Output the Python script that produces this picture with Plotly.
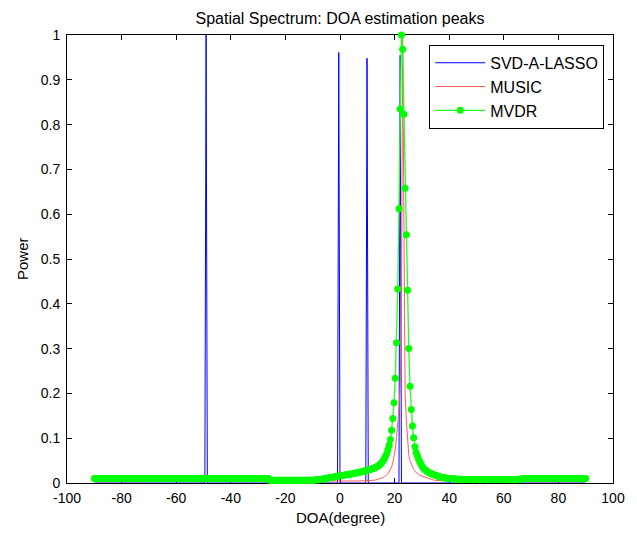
import numpy as np
import plotly.graph_objects as go

# ---------------- data ----------------
# DOA scan grid (degrees): 401 points from -90 to 90
doa_start, doa_stop, doa_count = -90.0, 90.0, 401
doa = np.linspace(doa_start, doa_stop, doa_count)

# SVD-A-LASSO: sparse spectrum (zero everywhere except at these peaks)
svd_peak_doa = [-49.05, -0.45, 9.9, 22.05]
svd_peak_power = [1.0, 0.961, 0.948, 0.955]

# MVDR normalised spectrum on the grid
mvdr_text = """
0.0098 0.0099 0.0098 0.0098 0.0097 0.0098 0.0099 0.0098 0.0098 0.0097
0.0098 0.0098 0.0099 0.0098 0.0097 0.0098 0.0098 0.0099 0.0098 0.0098
0.0097 0.0098 0.0098 0.0099 0.0098 0.0098 0.0097 0.0098 0.0099 0.0098
0.0098 0.0098 0.0097 0.0098 0.0099 0.0098 0.0098 0.0097 0.0098 0.0098
0.0099 0.0098 0.0098 0.0097 0.0098 0.0098 0.0099 0.0098 0.0098 0.0097
0.0098 0.0099 0.0098 0.0098 0.0097 0.0098 0.0098 0.0099 0.0098 0.0098
0.0097 0.0098 0.0099 0.0098 0.0098 0.0098 0.0097 0.0098 0.0099 0.0098
0.0098 0.0097 0.0098 0.0098 0.0099 0.0098 0.0098 0.0097 0.0098 0.0099
0.0098 0.0098 0.0097 0.0098 0.0098 0.0099 0.0098 0.0098 0.0097 0.0098
0.0099 0.0098 0.0098 0.0097 0.0098 0.0098 0.0099 0.0098 0.0098 0.0097
0.0098 0.0099 0.0098 0.0098 0.0097 0.0098 0.0098 0.0099 0.0098 0.0098
0.0097 0.0098 0.0099 0.0098 0.0098 0.0097 0.0098 0.0098 0.0099 0.0098
0.0098 0.0097 0.0098 0.0099 0.0098 0.0098 0.0097 0.0098 0.0098 0.0099
0.0098 0.0098 0.0097 0.0098 0.0099 0.0098 0.0098 0.0097 0.0098 0.0098
0.0098 0.0098 0.0097 0.0062 0.0061 0.0061 0.0060 0.0061 0.0060 0.0060
0.0061 0.0060 0.0060 0.0061 0.0060 0.0060 0.0061 0.0060 0.0060 0.0061
0.0060 0.0060 0.0061 0.0060 0.0060 0.0061 0.0060 0.0060 0.0061 0.0060
0.0060 0.0061 0.0060 0.0060 0.0061 0.0060 0.0061 0.0061 0.0063 0.0065
0.0068 0.0071 0.0074 0.0078 0.0082 0.0086 0.0090 0.0095 0.0100 0.0105
0.0110 0.0115 0.0120 0.0125 0.0130 0.0135 0.0140 0.0145 0.0150 0.0155
0.0160 0.0165 0.0170 0.0174 0.0178 0.0182 0.0186 0.0190 0.0195 0.0200
0.0205 0.0210 0.0216 0.0222 0.0228 0.0234 0.0240 0.0246 0.0253 0.0260
0.0267 0.0274 0.0282 0.0290 0.0298 0.0307 0.0316 0.0326 0.0337 0.0349
0.0363 0.0380 0.0400 0.0425 0.0455 0.0495 0.0540 0.0590 0.0655 0.0740
0.0840 0.0970 0.1180 0.1440 0.1790 0.2340 0.3130 0.4330 0.6120 0.8350
1.0000 0.9680 0.8230 0.6580 0.5540 0.4300 0.3000 0.2160 0.1640 0.1270
0.1010 0.0810 0.0680 0.0610 0.0530 0.0470 0.0420 0.0370 0.0330 0.0300
0.0280 0.0260 0.0240 0.0225 0.0212 0.0200 0.0190 0.0180 0.0170 0.0160
0.0150 0.0142 0.0135 0.0128 0.0122 0.0117 0.0112 0.0107 0.0103 0.0100
0.0098 0.0096 0.0094 0.0092 0.0090 0.0088 0.0086 0.0084 0.0082 0.0080
0.0079 0.0078 0.0077 0.0076 0.0076 0.0077 0.0076 0.0076 0.0075 0.0076
0.0076 0.0077 0.0076 0.0076 0.0075 0.0076 0.0076 0.0077 0.0076 0.0076
0.0075 0.0076 0.0076 0.0077 0.0076 0.0076 0.0075 0.0076 0.0076 0.0077
0.0076 0.0076 0.0075 0.0076 0.0076 0.0077 0.0076 0.0076 0.0075 0.0076
0.0076 0.0075 0.0076 0.0076 0.0077 0.0076 0.0076 0.0076 0.0097 0.0098
0.0098 0.0099 0.0098 0.0098 0.0097 0.0098 0.0098 0.0099 0.0098 0.0098
0.0097 0.0098 0.0099 0.0098 0.0098 0.0097 0.0098 0.0098 0.0099 0.0098
0.0098 0.0097 0.0098 0.0099 0.0098 0.0098 0.0097 0.0098 0.0098 0.0099
0.0098 0.0098 0.0097 0.0098 0.0099 0.0098 0.0098 0.0097 0.0098 0.0098
0.0099 0.0098 0.0098 0.0097 0.0098 0.0098 0.0099 0.0098 0.0098 0.0097
0.0098
"""

# MUSIC normalised spectrum on the grid
music_text = """
0.0030 0.0030 0.0031 0.0030 0.0029 0.0030 0.0030 0.0031 0.0030 0.0030
0.0029 0.0030 0.0030 0.0031 0.0030 0.0030 0.0029 0.0030 0.0030 0.0031
0.0030 0.0030 0.0029 0.0030 0.0030 0.0031 0.0030 0.0030 0.0029 0.0030
0.0030 0.0031 0.0030 0.0030 0.0029 0.0030 0.0030 0.0031 0.0030 0.0030
0.0029 0.0030 0.0030 0.0031 0.0030 0.0030 0.0029 0.0030 0.0030 0.0031
0.0030 0.0030 0.0029 0.0030 0.0030 0.0031 0.0030 0.0030 0.0029 0.0030
0.0030 0.0031 0.0030 0.0030 0.0029 0.0030 0.0030 0.0031 0.0030 0.0030
0.0029 0.0030 0.0030 0.0031 0.0030 0.0030 0.0029 0.0030 0.0030 0.0031
0.0030 0.0030 0.0029 0.0030 0.0030 0.0031 0.0030 0.0030 0.0029 0.0030
0.0030 0.0031 0.0030 0.0030 0.0029 0.0030 0.0030 0.0031 0.0030 0.0030
0.0029 0.0030 0.0030 0.0031 0.0030 0.0030 0.0029 0.0030 0.0030 0.0031
0.0030 0.0030 0.0029 0.0030 0.0030 0.0031 0.0030 0.0030 0.0029 0.0030
0.0030 0.0031 0.0030 0.0030 0.0029 0.0030 0.0030 0.0031 0.0030 0.0030
0.0029 0.0030 0.0030 0.0031 0.0030 0.0030 0.0029 0.0030 0.0030 0.0031
0.0030 0.0030 0.0029 0.0030 0.0030 0.0031 0.0030 0.0030 0.0029 0.0030
0.0030 0.0031 0.0030 0.0030 0.0029 0.0030 0.0030 0.0031 0.0030 0.0030
0.0029 0.0030 0.0030 0.0031 0.0030 0.0030 0.0029 0.0030 0.0030 0.0031
0.0030 0.0031 0.0031 0.0032 0.0032 0.0033 0.0033 0.0034 0.0034 0.0035
0.0035 0.0035 0.0036 0.0036 0.0036 0.0037 0.0037 0.0037 0.0038 0.0038
0.0038 0.0038 0.0039 0.0039 0.0039 0.0039 0.0040 0.0040 0.0040 0.0040
0.0040 0.0041 0.0041 0.0041 0.0041 0.0042 0.0042 0.0042 0.0042 0.0043
0.0043 0.0043 0.0044 0.0044 0.0045 0.0045 0.0046 0.0046 0.0047 0.0048
0.0048 0.0049 0.0050 0.0051 0.0052 0.0053 0.0055 0.0058 0.0062 0.0067
0.0073 0.0080 0.0088 0.0097 0.0108 0.0120 0.0135 0.0152 0.0175 0.0205
0.0245 0.0295 0.0360 0.0450 0.0580 0.0760 0.1020 0.1320 0.1650 0.2200
0.3600 1.0000 0.4400 0.2000 0.1400 0.0850 0.0620 0.0500 0.0420 0.0350
0.0300 0.0260 0.0230 0.0210 0.0190 0.0170 0.0160 0.0145 0.0132 0.0120
0.0110 0.0100 0.0092 0.0085 0.0078 0.0072 0.0067 0.0063 0.0059 0.0056
0.0053 0.0050 0.0048 0.0046 0.0044 0.0042 0.0040 0.0039 0.0037 0.0036
0.0035 0.0034 0.0034 0.0033 0.0033 0.0032 0.0032 0.0032 0.0031 0.0031
0.0030 0.0030 0.0031 0.0030 0.0029 0.0030 0.0030 0.0031 0.0030 0.0030
0.0029 0.0030 0.0030 0.0031 0.0030 0.0030 0.0029 0.0030 0.0030 0.0031
0.0030 0.0030 0.0029 0.0030 0.0030 0.0031 0.0030 0.0030 0.0029 0.0030
0.0030 0.0031 0.0030 0.0030 0.0029 0.0030 0.0030 0.0031 0.0030 0.0030
0.0029 0.0030 0.0030 0.0031 0.0030 0.0030 0.0029 0.0030 0.0030 0.0031
0.0030 0.0030 0.0029 0.0030 0.0030 0.0031 0.0030 0.0030 0.0029 0.0030
0.0030 0.0031 0.0030 0.0030 0.0029 0.0030 0.0030 0.0031 0.0030 0.0030
0.0029 0.0030 0.0030 0.0031 0.0030 0.0030 0.0029 0.0030 0.0030 0.0031
0.0030 0.0030 0.0029 0.0030 0.0030 0.0031 0.0030 0.0030 0.0029 0.0030
0.0030 0.0031 0.0030 0.0030 0.0029 0.0030 0.0030 0.0031 0.0030 0.0030
0.0030
"""

mvdr_power = [float(v) for v in mvdr_text.split()]
music_power = [float(v) for v in music_text.split()]

x_tick_values = [-100, -80, -60, -40, -20, 0, 20, 40, 60, 80, 100]
x_tick_labels = ["-100", "-80", "-60", "-40", "-20", "0", "20", "40", "60", "80", "100"]
y_tick_values = [0, 0.1, 0.2, 0.3, 0.4, 0.5, 0.6, 0.7, 0.8, 0.9, 1]
y_tick_labels = ["0", "0.1", "0.2", "0.3", "0.4", "0.5", "0.6", "0.7", "0.8", "0.9", "1"]

# build sparse SVD-A-LASSO spectrum on the grid
svd_power = np.zeros(doa_count)
for d, p in zip(svd_peak_doa, svd_peak_power):
    svd_power[int(np.argmin(np.abs(doa - d)))] = p

# ---------------- figure ----------------
FONT = "Liberation Sans, Arial, Helvetica, sans-serif"

fig = go.Figure()
fig.add_trace(go.Scatter(x=doa, y=svd_power, mode="lines", name="SVD-A-LASSO",
                         line=dict(color="#0000FF", width=1)))
fig.add_trace(go.Scatter(x=doa, y=music_power, mode="lines", name="MUSIC",
                         line=dict(color="#FF5A5A", width=1)))
fig.add_trace(go.Scatter(x=doa, y=mvdr_power, mode="lines+markers", name="MVDR",
                         line=dict(color="#22FF22", width=1.3),
                         marker=dict(color="#00FF00", size=7, line=dict(width=0)),
                         cliponaxis=False))

axis_common = dict(showline=True, linecolor="black", linewidth=1, mirror="ticks",
                   ticks="inside", ticklen=5, tickcolor="black", tickwidth=1,
                   showgrid=False, zeroline=False,
                   tickfont=dict(family=FONT, size=14, color="black"),
                   layer="below traces", automargin=False)

# the page body adds an 8px margin, so the figure is sized to fit inside it
fig.update_layout(
    width=621, height=519,
    margin=dict(l=59, r=16, t=27, b=44),
    paper_bgcolor="white", plot_bgcolor="white",
    font=dict(family=FONT, size=15, color="black"),
    title=dict(text="Spatial Spectrum: DOA estimation peaks", x=0.5, xref="paper",
               y=1 - 10 / 519, yref="container", yanchor="middle",
               font=dict(family=FONT, size=16, color="black")),
    xaxis=dict(range=[-100, 100], tickvals=x_tick_values, ticktext=x_tick_labels,
               ticklabelstandoff=2, **axis_common),
    yaxis=dict(range=[0, 1], tickvals=y_tick_values, ticktext=y_tick_labels,
               ticklabelstandoff=3, **axis_common),
    legend=dict(x=0.984, y=0.978, xanchor="right", yanchor="top",
                bgcolor="white", bordercolor="black", borderwidth=1,
                font=dict(family=FONT, size=16, color="black"),
                itemwidth=50, tracegroupgap=0),
    showlegend=True,
    annotations=[
        dict(text="DOA(degree)", xref="paper", yref="paper", x=0.5, y=-24 / 448,
             xanchor="center", yanchor="top", showarrow=False,
             font=dict(family=FONT, size=15, color="black")),
        dict(text="Power", xref="paper", yref="paper", x=-45 / 546, y=0.5,
             xanchor="center", yanchor="middle", textangle=-90, showarrow=False,
             font=dict(family=FONT, size=15, color="black")),
    ],
)

fig.write_html("out.html")
